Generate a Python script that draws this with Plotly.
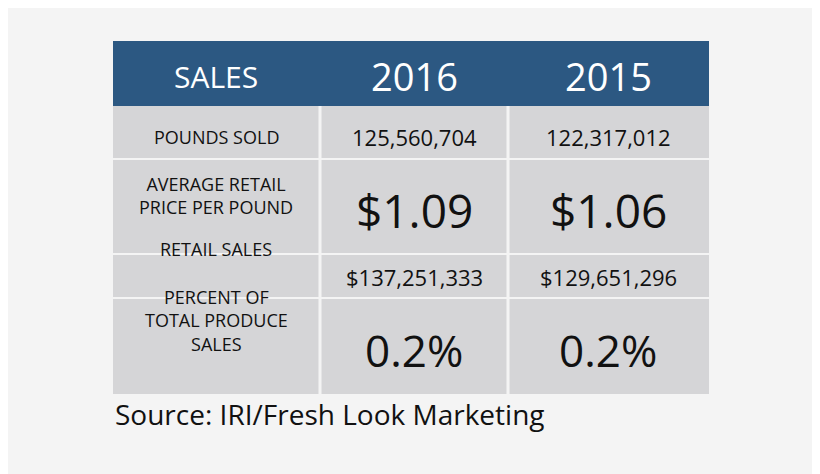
import plotly.graph_objects as go

headers = ["SALES", "2016", "2015"]
row_labels = ["POUNDS SOLD", "AVERAGE RETAIL<br>PRICE PER POUND", "RETAIL SALES", "PERCENT OF<br>TOTAL PRODUCE<br>SALES"]
vals_2016 = ["125,560,704", "$1.09", "$137,251,333", "0.2%"]
vals_2015 = ["122,317,012", "$1.06", "$129,651,296", "0.2%"]
source = "Source: IRI/Fresh Look Marketing"

col_edges = [113, 320, 508, 709]
row_edges = [106, 159, 254, 298, 395]
label_y = [137, 195, 249, 320]
value_y = [137, 210, 277, 350]
value_sizes = [22, 46, 22, 44]

fig = go.Figure()
fig.add_trace(go.Scatter(x=[8, 820], y=[8, 474], mode="markers", marker=dict(opacity=0), hoverinfo="skip"))
shapes = [dict(type="rect", x0=113, x1=709, y0=41, y1=106, fillcolor="#2c5882", line_width=0, layer="below")]
for r in range(4):
    for c in range(3):
        shapes.append(dict(type="rect", x0=col_edges[c] + (1.5 if c else 0), x1=col_edges[c+1] - (1.5 if c < 2 else 0),
                           y0=row_edges[r] + (1 if r else 0), y1=row_edges[r+1] - 1,
                           fillcolor="#d5d5d7", line_width=0, layer="below"))
ann = []
font = "Open Sans"
hx = [216, 414, 608]
hs = [30, 38, 38]
for h, x, s in zip(headers, hx, hs):
    ann.append(dict(x=x, y=76, text=h, showarrow=False, font=dict(family=font, size=s, color="white")))
for i in range(4):
    ann.append(dict(x=216, y=label_y[i], text=row_labels[i], showarrow=False,
                    font=dict(family=font, size=18, color="#111111")))
    ann.append(dict(x=414, y=value_y[i], text=vals_2016[i], showarrow=False,
                    font=dict(family=font, size=value_sizes[i], color="#111111")))
    ann.append(dict(x=608, y=value_y[i], text=vals_2015[i], showarrow=False,
                    font=dict(family=font, size=value_sizes[i], color="#111111")))
ann.append(dict(x=113, y=414, text=source, showarrow=False, xanchor="left",
                font=dict(family=font, size=28, color="#111111")))
fig.update_layout(width=812, height=466, margin=dict(l=0, r=0, t=0, b=0),
                  paper_bgcolor="#f4f4f4", plot_bgcolor="#f4f4f4", showlegend=False,
                  xaxis=dict(range=[8, 820], visible=False, fixedrange=True),
                  yaxis=dict(range=[474, 8], visible=False, fixedrange=True),
                  shapes=shapes, annotations=ann)
fig.write_html("out.html")
